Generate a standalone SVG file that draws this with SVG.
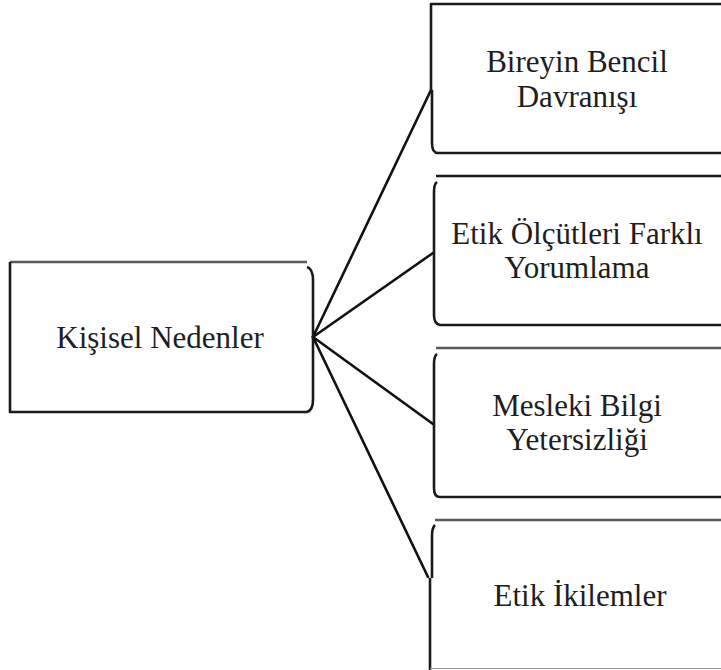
<svg xmlns="http://www.w3.org/2000/svg" width="721" height="670" viewBox="0 0 721 670">
<style>
.b{fill:none;stroke:#1a1a1a;stroke-width:2.6;stroke-linejoin:round}
.g{fill:none;stroke:#5a5a5a;stroke-width:2.6}
.c{fill:none;stroke:#111;stroke-width:2.6;stroke-linecap:round}
text{font-family:"Liberation Serif","Times New Roman",serif;font-size:31px;fill:#1e1e1e;text-anchor:middle}
</style>
<rect width="721" height="670" fill="#fff"/>
<g id="connectors">
<line class="c" x1="313" y1="337" x2="431" y2="90"/>
<line class="c" x1="313" y1="337" x2="433" y2="253"/>
<line class="c" x1="313" y1="337" x2="433" y2="424"/>
<line class="c" x1="313" y1="337" x2="428" y2="577"/>
</g>
<g id="kisisel">
<line class="g" x1="10" y1="262" x2="307" y2="262"/>
<path class="b" d="M10 262 V412 H307"/>
<path class="b" d="M307 267 Q313 269 313 280 V400 Q313 410 307 412"/>
<text x="160" y="348">Kişisel Nedenler</text>
</g>
<g id="bireyin">
<path class="b" d="M721 4 H431 V90"/>
<path class="b" d="M432 90 V143 Q432 153 438 153 H721"/>
<text x="577" y="72">Bireyin Bencil</text>
<text x="577" y="107">Davranışı</text>
</g>
<g id="etik-olcutleri">
<line class="b" x1="436" y1="176" x2="721" y2="176"/>
<path class="b" d="M437 182 Q434 184 434 192 V315 Q434 324 440 325 H721"/>
<text x="577" y="244">Etik Ölçütleri Farklı</text>
<text x="577" y="278">Yorumlama</text>
</g>
<g id="mesleki">
<line class="g" x1="436" y1="348" x2="721" y2="348"/>
<path class="b" d="M437 354 Q434 356 434 364 V488 Q434 497 440 497 H721"/>
<text x="577" y="416">Mesleki Bilgi</text>
<text x="577" y="450">Yetersizliği</text>
</g>
<g id="etik-ikilemler">
<line class="g" x1="435" y1="520" x2="721" y2="520"/>
<path class="b" d="M435 525 Q432 528 432 536 V578"/>
<path class="b" d="M430 578 V670"/>
<line x1="430" y1="668.5" x2="721" y2="668.5" stroke="#9a9a9a" stroke-width="1"/>
<text x="580" y="606">Etik İkilemler</text>
</g>
</svg>
